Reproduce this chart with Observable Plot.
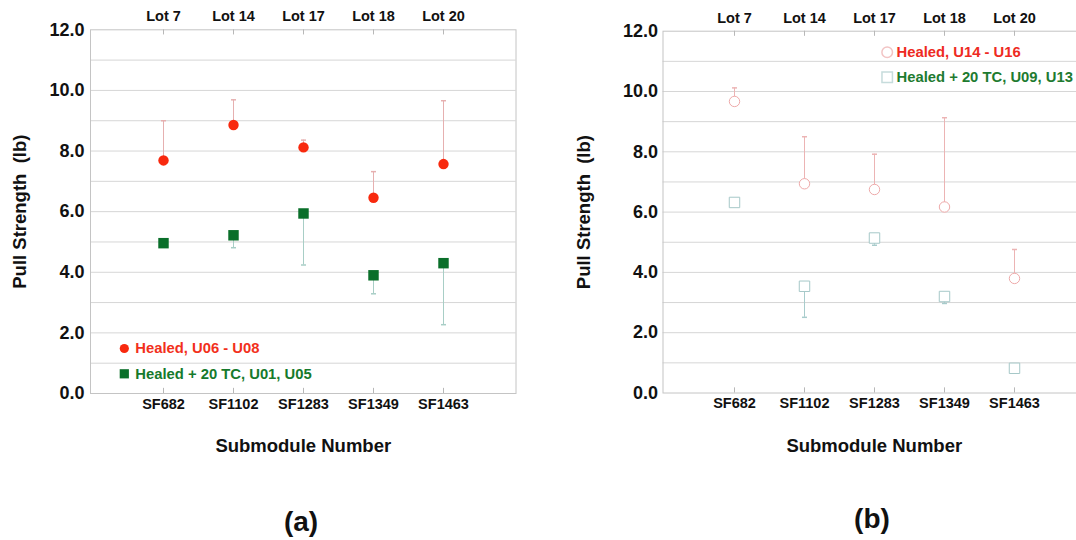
<!DOCTYPE html>
<html><head><meta charset="utf-8">
<script src="https://cdn.jsdelivr.net/npm/d3@7"></script>
<script src="https://cdn.jsdelivr.net/npm/@observablehq/plot@0.6"></script>
<style>
body{margin:0;background:#fff;}
#wrap{position:relative;width:1076px;height:540px;overflow:hidden;font-family:"Liberation Sans",Arial,sans-serif;font-weight:bold;color:#111;}
.panel{position:absolute;top:0;}
.panel svg{max-width:none !important;}
.cap{position:absolute;font-size:28px;transform:translate(-50%,-50%);}
</style></head><body><div id="wrap"></div>
<script>
const submodules = ["SF682", "SF1102", "SF1283", "SF1349", "SF1463"];
const lots = ["Lot 7", "Lot 14", "Lot 17", "Lot 18", "Lot 20"];
const yTicks = [0, 2, 4, 6, 8, 10, 12];
const gridValues = [1, 2, 3, 4, 5, 6, 7, 8, 9, 10, 11];

// Panel (a)
const aHealed = [7.69, 8.86, 8.12, 6.46, 7.57];
const aHealedHigh = [9.00, 9.69, 8.36, 7.32, 9.66];
const aTC = [4.96, 5.22, 5.94, 3.90, 4.30];
const aTCLow = [4.96, 4.81, 4.24, 3.29, 2.27];
// Panel (b)
const bHealed = [9.67, 6.94, 6.75, 6.17, 3.80];
const bHealedHigh = [10.12, 8.50, 7.92, 9.13, 4.76];
const bTC = [6.32, 3.54, 5.14, 3.20, 0.82];
const bTCLow = [6.32, 2.51, 4.90, 2.97, 0.82];

const legendA = ["Healed, U06 - U08", "Healed + 20 TC, U01, U05"];
const legendB = ["Healed, U14 - U16", "Healed + 20 TC, U09, U13"];
const xTitle = "Submodule Number";
const yTitle = "Pull Strength\u00a0 (lb)";

const FONT = "Liberation Sans, Arial, sans-serif";

// horizontal cap symbol for error bars
const capSymbol = {
  draw(ctx, size) {
    const w = Math.sqrt(size / Math.PI);
    ctx.moveTo(-w, 0); ctx.lineTo(w, 0);
  }
};

function rows(v, hi, t, lo) {
  return submodules.map((s, i) => ({sub: s, v: v[i], hi: hi[i], t: t[i], lo: lo[i]}));
}

function panel(o) {
  const data = rows(o.v, o.hi, o.t, o.lo);
  const upBars = data.filter(d => d.hi > d.v);
  const downBars = data.filter(d => d.lo < d.t);
  return Plot.plot({
    width: o.width, height: 470,
    marginLeft: o.ml, marginRight: o.mr, marginTop: o.mt, marginBottom: 470 - o.bottom,
    style: {fontFamily: FONT, fontWeight: "bold", background: "transparent", overflow: "visible", color: "#111"},
    x: {type: "point", domain: submodules, padding: 1, axis: null},
    y: {domain: [0, 12], axis: null},
    marks: [
      Plot.gridY(gridValues, {stroke: "#d6d6d6", strokeOpacity: 1}),
      Plot.frame({stroke: "#c4c4c4"}),
      Plot.ruleX(submodules, {x: d => d, y1: 0, y2: 0.17, stroke: "#b8b8b8"}),
      Plot.ruleX(submodules, {x: d => d, y1: 12, y2: 11.83, stroke: "#b8b8b8"}),
      Plot.axisY(yTicks, {tickFormat: d3.format(".1f"), tickSize: 0, tickPadding: o.yPad, fontSize: 18, fontWeight: "bold", fill: "#111", label: null}),
      Plot.axisX(submodules, {anchor: "bottom", tickSize: 0, tickPadding: 5, fontSize: 14.5, fontWeight: "bold", fill: "#111", label: null}),
      Plot.axisX(submodules, {anchor: "top", tickSize: 0, tickPadding: o.topPad, tickFormat: d => lots[submodules.indexOf(d)], fontSize: 14.5, fontWeight: "bold", fill: "#111", label: null}),
      Plot.text([yTitle], {frameAnchor: "left", rotate: -90, dx: -o.yTitleOff, textAnchor: "middle", lineAnchor: "middle", fontSize: 18.5, fontWeight: "bold", fill: "#111"}),
      Plot.text([xTitle], {frameAnchor: "bottom", dy: 53, textAnchor: "middle", lineAnchor: "middle", fontSize: 18.5, fontWeight: "bold", fill: "#111"}),
      Plot.ruleX(upBars, {x: "sub", y1: "v", y2: "hi", stroke: o.redBar}),
      Plot.dot(upBars, {x: "sub", y: "hi", symbol: capSymbol, r: 2.5, stroke: o.redBar, fill: "none"}),
      Plot.ruleX(downBars, {x: "sub", y1: "t", y2: "lo", stroke: o.greenBar}),
      Plot.dot(downBars, {x: "sub", y: "lo", symbol: capSymbol, r: 2.5, stroke: o.greenBar, fill: "none"}),
      Plot.dot(data, {x: "sub", y: "v", r: 5.2, symbol: "circle", ...o.circleStyle}),
      Plot.dot(data, {x: "sub", y: "t", r: 5.9, symbol: "square", ...o.squareStyle}),
      ...o.legend
    ]
  });
}

const red = "#f8290e", green = "#0a6f2a";

const leftPlot = panel({
  width: 538, ml: 90, mr: 22.5, mt: 29.3, bottom: 393, yPad: 6, topPad: 9, yTitleOff: 70.5,
  v: aHealed, hi: aHealedHigh, t: aTC, lo: aTCLow,
  redBar: "#e6b0b0", greenBar: "#a8cec6",
  circleStyle: {fill: red},
  squareStyle: {fill: green},
  legend: [
    Plot.dot([0], {frameAnchor: "bottom-left", dx: 33.8, dy: -45, r: 4.6, fill: red}),
    Plot.text([legendA[0]], {frameAnchor: "bottom-left", dx: 44.8, dy: -45, textAnchor: "start", lineAnchor: "middle", fill: "#f2301c", fontSize: 14.8, fontWeight: "bold"}),
    Plot.dot([0], {frameAnchor: "bottom-left", dx: 33.8, dy: -19.7, r: 5.2, symbol: "square", fill: green}),
    Plot.text([legendA[1]], {frameAnchor: "bottom-left", dx: 44.8, dy: -19.7, textAnchor: "start", lineAnchor: "middle", fill: "#167a2c", fontSize: 14.8, fontWeight: "bold"})
  ]
});

const rightPlot = panel({
  width: 560, ml: 124.5, mr: 13, mt: 30.7, bottom: 392.5, yPad: 5, topPad: 8.5, yTitleOff: 78.7,
  v: bHealed, hi: bHealedHigh, t: bTC, lo: bTCLow,
  redBar: "#ecb4b4", greenBar: "#a8cccc",
  circleStyle: {fill: "#fff", stroke: "#eeaaaa", strokeWidth: 1},
  squareStyle: {fill: "#fff", stroke: "#a6c8c8", strokeWidth: 1},
  legend: [
    Plot.dot([0], {frameAnchor: "top-left", dx: 224.2, dy: 21, r: 5.3, fill: "#fff", stroke: "#f2c4c4"}),
    Plot.text([legendB[0]], {frameAnchor: "top-left", dx: 233.5, dy: 21, textAnchor: "start", lineAnchor: "middle", fill: "#ee2a22", fontSize: 14.8, fontWeight: "bold"}),
    Plot.dot([0], {frameAnchor: "top-left", dx: 224.2, dy: 46, r: 5.9, symbol: "square", fill: "#fff", stroke: "#c6dcdc"}),
    Plot.text([legendB[1]], {frameAnchor: "top-left", dx: 233.5, dy: 46, textAnchor: "start", lineAnchor: "middle", fill: "#1e7b30", fontSize: 14.8, fontWeight: "bold"})
  ]
});

const wrap = document.getElementById("wrap");
const p1 = document.createElement("div"); p1.className = "panel"; p1.style.left = "0px"; p1.style.width = "538px"; p1.appendChild(leftPlot);
const p2 = document.createElement("div"); p2.className = "panel"; p2.style.left = "538px"; p2.style.width = "560px"; p2.appendChild(rightPlot);
wrap.appendChild(p1); wrap.appendChild(p2);
const captions = [["(a)", 301, 522], ["(b)", 872, 519]];
for (const [t, x, y] of captions) {
  const c = document.createElement("div"); c.className = "cap"; c.textContent = t;
  c.style.left = x + "px"; c.style.top = y + "px"; wrap.appendChild(c);
}
</script>
</body></html>
